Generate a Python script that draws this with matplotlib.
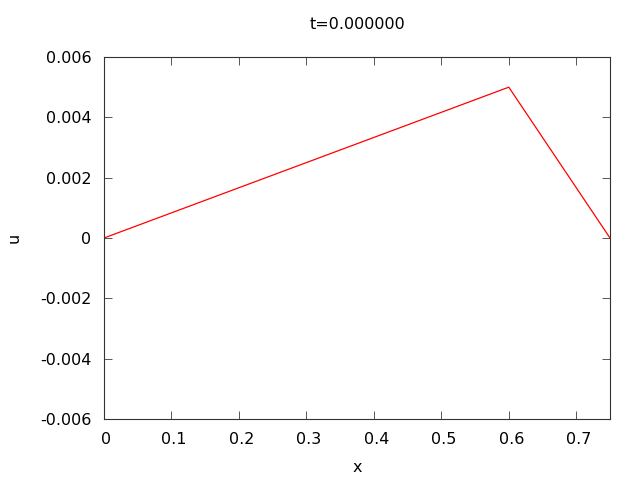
import matplotlib
matplotlib.use("Agg")
import matplotlib.pyplot as plt
from matplotlib.transforms import ScaledTranslation

x = [0.0, 0.6, 0.75]
u = [0.0, 0.005, 0.0]
xticks = [0, 0.1, 0.2, 0.3, 0.4, 0.5, 0.6, 0.7]
yticks = [-0.006, -0.004, -0.002, 0, 0.002, 0.004, 0.006]
ytick_labels = ["-0.006", "-0.004", "-0.002", "0", "0.002", "0.004", "0.006"]
xtick_labels = ["0", "0.1", "0.2", "0.3", "0.4", "0.5", "0.6", "0.7"]

plt.rcParams['font.family'] = ['DejaVu Sans']
fig = plt.figure(figsize=(6.4, 4.8), dpi=100)
ax = fig.add_axes([104/640, 61/480, 506/640, 362/480])
ax.plot(x, u, color='red', linewidth=0.9)
ax.set_xlim(0, 0.75)
ax.set_ylim(-0.006, 0.006)
ax.set_xticks(xticks)
ax.set_xticklabels(xtick_labels)
ax.set_yticks(yticks)
ax.set_yticklabels(ytick_labels)
ax.tick_params(direction='in', length=6, width=0.7, color='#555555',
               top=True, right=True, labelsize=11.5, pad=9)
off = ScaledTranslation(2.5/100, 0, fig.dpi_scale_trans)
for lbl in ax.get_xticklabels():
    lbl.set_transform(lbl.get_transform() + off)
for s in ax.spines.values():
    s.set_color('#333333')
    s.set_linewidth(0.8)
ax.set_xlabel('x', fontsize=11.5, labelpad=10)
ax.set_ylabel('u', fontsize=11.5, labelpad=13)
ax.set_title('t=0.000000', fontsize=11.5, pad=20)
fig.savefig('out.png', dpi=100)
